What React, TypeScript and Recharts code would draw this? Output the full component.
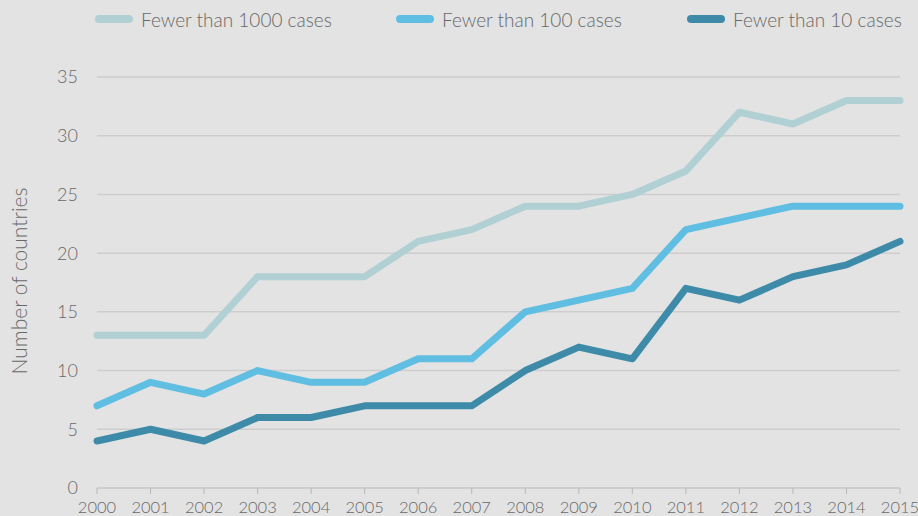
import { CartesianGrid, Line, LineChart, XAxis, YAxis } from 'recharts';

const years = [
  '2000', '2001', '2002', '2003', '2004', '2005', '2006', '2007',
  '2008', '2009', '2010', '2011', '2012', '2013', '2014', '2015',
];
const under1000 = [13, 13, 13, 18, 18, 18, 21, 22, 24, 24, 25, 27, 32, 31, 33, 33];
const under100 = [7, 9, 8, 10, 9, 9, 11, 11, 15, 16, 17, 22, 23, 24, 24, 24];
const under10 = [4, 5, 4, 6, 6, 7, 7, 7, 10, 12, 11, 17, 16, 18, 19, 21];
const yTicks = [0, 5, 10, 15, 20, 25, 30, 35];

const series = [
  { id: 'k1000', label: 'Fewer than 1000 cases', color: '#b1d0d3', values: under1000 },
  { id: 'k100', label: 'Fewer than 100 cases', color: '#5fbee1', values: under100 },
  { id: 'k10', label: 'Fewer than 10 cases', color: '#3e8ba9', values: under10 },
];

const data = years.map((year, i) => {
  const row: Record<string, string | number> = { year };
  for (const s of series) row[s.id] = s.values[i];
  return row;
});

const FONT = "Lato, 'Open Sans', sans-serif";
const textColor = '#686868';
const gridColor = '#cdcdcd';

function TopLegend() {
  const lefts = [95, 396, 687];
  return (
    <>
      {series.map((s, i) => (
        <div
          key={s.id}
          style={{
            position: 'absolute',
            left: lefts[i],
            top: 6,
            height: 26,
            display: 'flex',
            alignItems: 'center',
            fontFamily: FONT,
            fontSize: 19,
            fontWeight: 300,
            color: textColor,
            whiteSpace: 'nowrap',
          }}
        >
          <span
            style={{
              display: 'inline-block',
              width: 38,
              height: 8,
              borderRadius: 4,
              background: s.color,
              marginRight: 8,
            }}
          />
          {s.label}
        </div>
      ))}
    </>
  );
}

export default function App() {
  return (
    <div
      style={{
        position: 'fixed',
        left: 0,
        top: 0,
        width: 918,
        height: 516,
        background: '#e3e3e3',
        overflow: 'hidden',
      }}
    >
      <TopLegend />
      <div
        style={{
          position: 'absolute',
          left: 18,
          top: 281,
          transform: 'translate(-50%, -50%) rotate(-90deg)',
          fontFamily: FONT,
          fontSize: 21,
          fontWeight: 300,
          color: textColor,
          whiteSpace: 'nowrap',
        }}
      >
        Number of countries
      </div>
      <LineChart
        data={data}
        height={516}
        margin={{ bottom: 0, left: 0, right: 18, top: 77 }}
        style={{ position: 'absolute', left: 0, top: 0 }}
        width={918}
      >
        <CartesianGrid stroke={gridColor} strokeWidth={1.5} vertical={false} />
        <XAxis
          axisLine={{ stroke: gridColor, strokeWidth: 1.5 }}
          dataKey="year"
          height={28}
          interval={0}
          tick={{ fill: textColor, fontSize: 16.5, fontFamily: FONT, fontWeight: 300 }}
          tickLine={{ stroke: '#b8b8b8' }}
          tickMargin={7}
          tickSize={6}
        />
        <YAxis
          axisLine={false}
          domain={[0, 35]}
          tick={{ fill: textColor, fontSize: 18, fontFamily: FONT, fontWeight: 300 }}
          tickLine={false}
          tickMargin={13}
          ticks={yTicks}
          width={97}
        />
        {series.map((s) => (
          <Line
            dataKey={s.id}
            dot={false}
            isAnimationActive={false}
            key={s.id}
            name={s.label}
            stroke={s.color}
            strokeLinecap="round"
            strokeLinejoin="round"
            strokeWidth={7}
            type="linear"
          />
        ))}
      </LineChart>
    </div>
  );
}
